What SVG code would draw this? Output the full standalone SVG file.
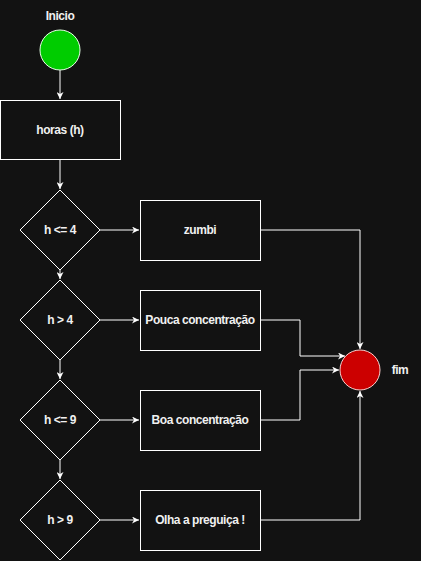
<svg xmlns="http://www.w3.org/2000/svg" width="421" height="561" viewBox="0 0 421 561">
<style>
.bg{fill:#121212}
.box{fill:#121212;stroke:#ffffff;stroke-width:1}
.lbl{font-family:"Liberation Sans",Arial,sans-serif;font-size:12px;font-weight:bold;letter-spacing:-0.45px;fill:#f0f0f0;text-anchor:middle;dominant-baseline:central}
.edge{fill:none;stroke:#ffffff;stroke-width:1}
</style>
<defs>
<marker id="arr" viewBox="0 0 10 10" refX="10" refY="5" markerWidth="7" markerHeight="7" orient="auto" markerUnits="userSpaceOnUse">
<path d="M0,0 L10,5 L0,10 L3,5 Z" fill="#ffffff"/>
</marker>
</defs>
<rect class="bg" x="0" y="0" width="421" height="561"/>
<g id="connectors">
<path class="edge" d="M60,70 V99" marker-end="url(#arr)"/>
<path class="edge" d="M60,160 V189" marker-end="url(#arr)"/>
<path class="edge" d="M60,270 V279" marker-end="url(#arr)"/>
<path class="edge" d="M60,360 V379" marker-end="url(#arr)"/>
<path class="edge" d="M60,460 V479" marker-end="url(#arr)"/>
<path class="edge" d="M100,230 H139" marker-end="url(#arr)"/>
<path class="edge" d="M100,320 H139" marker-end="url(#arr)"/>
<path class="edge" d="M100,420 H139" marker-end="url(#arr)"/>
<path class="edge" d="M100,520 H139" marker-end="url(#arr)"/>
<path class="edge" d="M260,230 H360 V349" marker-end="url(#arr)"/>
<path class="edge" d="M260,320 H300 V356 H345" marker-end="url(#arr)"/>
<path class="edge" d="M260,420 H300 V370 H339" marker-end="url(#arr)"/>
<path class="edge" d="M260,520 H360 V391" marker-end="url(#arr)"/>
</g>
<g id="inicio">
<circle cx="60" cy="50" r="20" fill="#00cc00" stroke="#e6ffe6" stroke-width="1"/>
<text class="lbl" x="60" y="16">Inicio</text>
</g>
<g id="horas">
<rect class="box" x="0.5" y="100.5" width="120" height="59"/>
<text class="lbl" x="60" y="130">horas (h)</text>
</g>
<g id="d1">
<path class="box" d="M60,190 L100,230 L60,270 L20,230 Z"/>
<text class="lbl" x="60" y="230">h &lt;= 4</text>
</g>
<g id="d2">
<path class="box" d="M60,280 L100,320 L60,360 L20,320 Z"/>
<text class="lbl" x="60" y="320">h &gt; 4</text>
</g>
<g id="d3">
<path class="box" d="M60,380 L100,420 L60,460 L20,420 Z"/>
<text class="lbl" x="60" y="420">h &lt;= 9</text>
</g>
<g id="d4">
<path class="box" d="M60,480 L100,520 L60,560 L20,520 Z"/>
<text class="lbl" x="60" y="520">h &gt; 9</text>
</g>
<g id="zumbi">
<rect class="box" x="140.5" y="200.5" width="120" height="60"/>
<text class="lbl" x="200" y="230">zumbi</text>
</g>
<g id="pouca">
<rect class="box" x="140.5" y="290.5" width="120" height="60"/>
<text class="lbl" x="200" y="320">Pouca concentração</text>
</g>
<g id="boa">
<rect class="box" x="140.5" y="390.5" width="120" height="60"/>
<text class="lbl" x="200" y="420">Boa concentração</text>
</g>
<g id="olha">
<rect class="box" x="140.5" y="490.5" width="120" height="60"/>
<text class="lbl" x="200" y="520">Olha a preguiça !</text>
</g>
<g id="fim">
<circle cx="360" cy="370" r="20" fill="#cc0000" stroke="#f8cecc" stroke-width="1"/>
<text class="lbl" x="400" y="370">fim</text>
</g>
</svg>
